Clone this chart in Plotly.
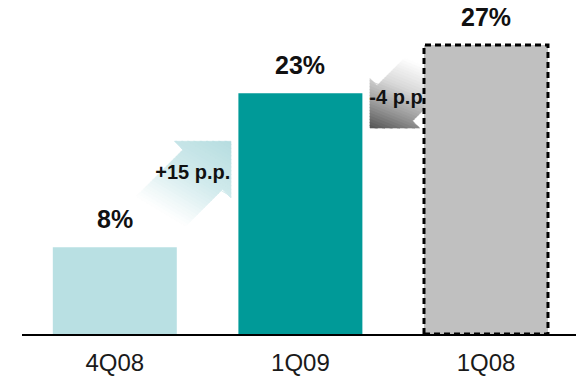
import numpy as np
import plotly.graph_objects as go

# ---------------- data ----------------
categories = ["4Q08", "1Q09", "1Q08"]
values = [8.1, 22.5, 27.0]
value_labels = ["8%", "23%", "27%"]
bar_colors = ["#B9E0E3", "#009A98", "#C0C0C0"]
change_labels = ["+15 p.p.", "-4 p.p."]

# ---------------- layout constants ----------------
W, H = 576, 380
M_L, M_R, M_T, M_B = 22, 0, 0, 46
X_RANGE = [-0.5, 2.485]
Y_RANGE = [0, 31.2]
BAR_W = 0.668
FONT = "Liberation Sans, Arial, sans-serif"

PW = W - M_L - M_R
PH = H - M_T - M_B
SX = PW / (X_RANGE[1] - X_RANGE[0])
SY = PH / (Y_RANGE[1] - Y_RANGE[0])


def to_px(x, y):
    return np.array([M_L + (x - X_RANGE[0]) * SX, M_T + (Y_RANGE[1] - y) * SY])


def to_data(p):
    return X_RANGE[0] + (p[0] - M_L) / SX, Y_RANGE[1] - (p[1] - M_T) / SY


def block_arrow(tip, d, head_len, head_half, body_half, length):
    d = np.array(d, float)
    d /= np.linalg.norm(d)
    n = np.array([-d[1], d[0]])
    B = tip - d * head_len
    T = tip - d * length
    return [tip, B + n * head_half, B + n * body_half, T + n * body_half,
            T - n * body_half, B - n * body_half, B - n * head_half]


def clip_half(poly, g, c, keep_ge):
    out = []
    n = len(poly)
    for i in range(n):
        P, Q = poly[i], poly[(i + 1) % n]
        pp, qp = P @ g - c, Q @ g - c
        if not keep_ge:
            pp, qp = -pp, -qp
        if pp >= 0:
            out.append(P)
        if (pp >= 0) != (qp >= 0):
            t = pp / (pp - qp)
            out.append(P + t * (Q - P))
    return out


def hex2rgb(h):
    h = h.lstrip("#")
    return np.array([int(h[i:i + 2], 16) for i in (0, 2, 4)], float)


def scale_color(stops, t):
    for (t0, c0), (t1, c1) in zip(stops[:-1], stops[1:]):
        if t <= t1:
            f = 0 if t1 == t0 else (t - t0) / (t1 - t0)
            c = hex2rgb(c0) * (1 - f) + hex2rgb(c1) * f
            return "rgb(%d,%d,%d)" % tuple(np.round(c))
    c = hex2rgb(stops[-1][1])
    return "rgb(%d,%d,%d)" % tuple(c)


def gradient_traces(poly, gdir, stops, nstrips=40):
    g = np.array(gdir, float)
    g /= np.linalg.norm(g)
    proj = [p @ g for p in poly]
    lo, hi = min(proj), max(proj)
    traces = []
    step = (hi - lo) / nstrips
    for k in range(nstrips):
        a = lo + k * step
        b = a + step + 0.8
        piece = clip_half(poly, g, a, True)
        if len(piece) < 3:
            continue
        piece = clip_half(piece, g, b, False)
        if len(piece) < 3:
            continue
        col = scale_color(stops, (k + 0.5) / nstrips)
        pts = [to_data(p) for p in piece]
        xs = [p[0] for p in pts] + [pts[0][0]]
        ys = [p[1] for p in pts] + [pts[0][1]]
        traces.append(go.Scatter(x=xs, y=ys, mode="lines", fill="toself",
                                 fillcolor=col, line=dict(color=col, width=0.6),
                                 hoverinfo="skip", showlegend=False,
                                 xaxis="x", yaxis="y"))
    return traces


fig = go.Figure()

# arrow 1 (up-right, between bar 0 and bar 1)
tip1 = to_px(1 - BAR_W / 2 - 0.04, 18.0)
arrow1 = block_arrow(tip1, (1, -1), 40, 40, 28, 125)
for tr in gradient_traces(arrow1, (0.6, -1),
                          [(0, "#FFFFFF"), (0.25, "#FFFFFF"), (0.6, "#D3EBED"), (1, "#B6DDE0")]):
    fig.add_trace(tr)

# arrow 2 (down-left, from bar 2 to bar 1)
tip2 = to_px(1 + BAR_W / 2 + 0.041, 19.24)
arrow2 = block_arrow(tip2, (-1, 1), 35, 35, 25, 110)
for tr in gradient_traces(arrow2, (-0.4, 1),
                          [(0, "#FFFFFF"), (0.3, "#FFFFFF"), (0.55, "#D8D8D8"), (0.8, "#959595"), (1, "#555555")]):
    fig.add_trace(tr)

# change labels
lab_pos = [to_data(to_px(0.42, 14.9)), to_data(to_px(1.53, 21.95))]
fig.add_trace(go.Scatter(
    x=[p[0] for p in lab_pos], y=[p[1] for p in lab_pos],
    mode="text", text=["<b>%s</b>" % s for s in change_labels],
    textposition="middle center",
    textfont=dict(family=FONT, size=20, color="#111111"),
    hoverinfo="skip", showlegend=False, xaxis="x", yaxis="y"))

# bars on overlay axes (drawn above the arrows)
fig.add_trace(go.Bar(
    x=list(range(len(categories))), y=values, width=BAR_W,
    marker=dict(color=bar_colors, line=dict(width=0)),
    hoverinfo="skip", showlegend=False, xaxis="x2", yaxis="y2"))

# dashed outline for the comparison bar
fig.add_shape(type="rect", xref="x2", yref="y2",
              x0=2 - BAR_W / 2, x1=2 + BAR_W / 2, y0=0, y1=values[2],
              line=dict(color="#000000", width=3, dash="6px,4px"),
              fillcolor="rgba(0,0,0,0)", layer="above")

for i, (v, lab) in enumerate(zip(values, value_labels)):
    fig.add_annotation(x=i, y=v, xref="x2", yref="y2", text="<b>%s</b>" % lab,
                       showarrow=False, yshift=28, yanchor="middle",
                       font=dict(family=FONT, size=25, color="#111111"))

fig.update_layout(
    width=W, height=H,
    margin=dict(l=M_L, r=M_R, t=M_T, b=M_B),
    paper_bgcolor="white", plot_bgcolor="rgba(0,0,0,0)",
    showlegend=False,
    xaxis=dict(range=X_RANGE, visible=False, fixedrange=True),
    yaxis=dict(range=Y_RANGE, visible=False, fixedrange=True),
    xaxis2=dict(range=X_RANGE, overlaying="x", anchor="y2",
                tickvals=list(range(len(categories))), ticktext=categories,
                showgrid=False, zeroline=False, showline=True,
                linecolor="#000000", linewidth=2, ticks="",
                ticklabelstandoff=6,
                tickfont=dict(family=FONT, size=24, color="#1a1a1a")),
    yaxis2=dict(range=Y_RANGE, overlaying="y", anchor="x2", visible=False),
)

fig.write_html("out.html")
